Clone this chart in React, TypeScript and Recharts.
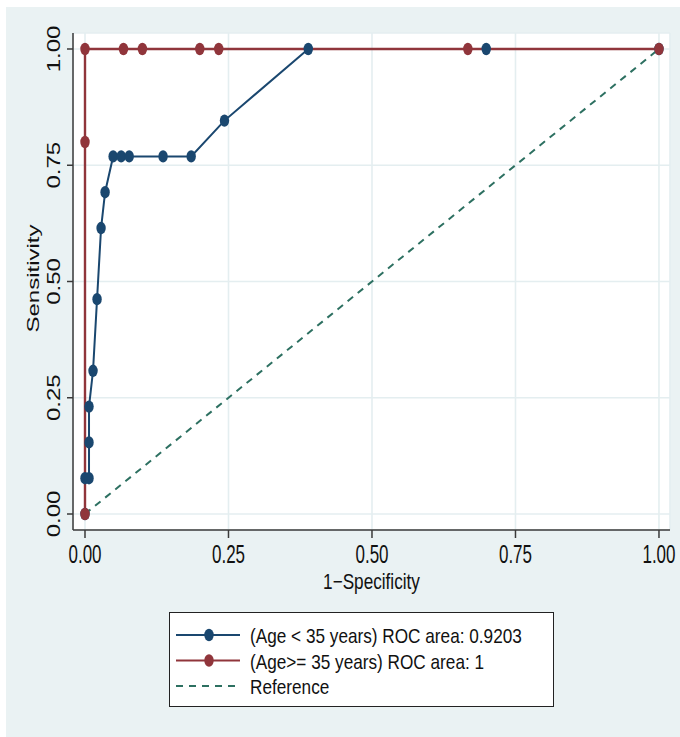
import React from "react";
import { LineChart, Line, XAxis, YAxis, CartesianGrid } from "recharts";

// ---- data ----
const blueX = [0, 0, 0.007, 0.007, 0.007, 0.014, 0.021, 0.028, 0.035, 0.049, 0.063, 0.077, 0.136, 0.185, 0.243, 0.389, 0.699, 1];
const blueY = [0, 0.077, 0.077, 0.154, 0.231, 0.308, 0.462, 0.615, 0.692, 0.769, 0.769, 0.769, 0.769, 0.769, 0.846, 1, 1, 1];
const redX = [0, 0, 0, 0.067, 0.1, 0.2, 0.233, 0.667, 1];
const redY = [0, 0.8, 1, 1, 1, 1, 1, 1, 1];
const refX = [0, 1];
const refY = [0, 1];
const xTicks = [0, 0.25, 0.5, 0.75, 1];
const yTicks = [0, 0.25, 0.5, 0.75, 1];
const seriesNames = [
  "(Age < 35 years) ROC area: 0.9203",
  "(Age>= 35 years) ROC area: 1",
  "Reference",
];
const xTitle = "1\u2212Specificity";
const yTitle = "Sensitivity";

const BLUE = "#1A476F";
const RED = "#90353B";
const GREEN = "#2D7061";
const BG = "#EAF2F3";
const GRID = "#E4EEF0";
const AXIS = "#3a3a3a";
const FONT = "'Liberation Sans', Arial, Helvetica, sans-serif";

const toRows = (xs: number[], ys: number[]) => xs.map((x, i) => ({ x, y: ys[i] }));
const blueData = toRows(blueX, blueY);
const redData = toRows(redX, redY);
const refData = toRows(refX, refY);

const fmt = (v: number) => v.toFixed(2);

const makeDot = (color: string) => (props: any) => {
  const { cx, cy, index } = props;
  if (cx == null || cy == null) return <g key={`d${index}`} />;
  return <ellipse key={`d${index}`} cx={cx} cy={cy} rx={4.7} ry={6.2} fill={color} />;
};

const XTick = (props: any) => {
  const { x, y, payload } = props;
  return (
    <g transform={`translate(${x},${y + 25}) scale(0.68,1)`}>
      <text textAnchor="middle" fontSize={25} fontFamily={FONT} fill="#111">
        {fmt(payload.value)}
      </text>
    </g>
  );
};

const YTick = (props: any) => {
  const { x, y, payload } = props;
  return (
    <g transform={`translate(${x - 7},${y}) scale(0.8,1) rotate(-90)`}>
      <text textAnchor="middle" fontSize={24} fontFamily={FONT} fill="#111">
        {fmt(payload.value)}
      </text>
    </g>
  );
};

const YTitle = (props: any) => {
  const vb = props.viewBox || {};
  const cy = vb.y + vb.height / 2 - 3;
  return (
    <g transform={`translate(39,${cy}) scale(0.72,1) rotate(-90)`}>
      <text textAnchor="middle" fontSize={24} fontFamily={FONT} fill="#111">
        {yTitle}
      </text>
    </g>
  );
};

const XTitle = (props: any) => {
  const vb = props.viewBox || {};
  const cx = vb.x + vb.width / 2;
  return (
    <g transform={`translate(${cx},589) scale(0.78,1)`}>
      <text textAnchor="middle" fontSize={22} fontFamily={FONT} fill="#111">
        {xTitle}
      </text>
    </g>
  );
};

const legendItems = [
  { name: seriesNames[0], color: BLUE, dashed: false },
  { name: seriesNames[1], color: RED, dashed: false },
  { name: seriesNames[2], color: GREEN, dashed: true },
];

const LegendBox = () => (
  <div
    style={{
      position: "absolute",
      left: 169,
      top: 612,
      width: 383,
      height: 93,
      background: "#fff",
      border: "1.5px solid #222",
    }}
  >
    <svg width={383} height={93} style={{ display: "block" }}>
      {legendItems.map((it, i) => {
        const ly = 22 + i * 25.5;
        return (
          <g key={i}>
            <line
              x1={6}
              x2={70}
              y1={ly}
              y2={ly}
              stroke={it.color}
              strokeWidth={2}
              strokeDasharray={it.dashed ? "7 6" : undefined}
            />
            {!it.dashed && <ellipse cx={39} cy={ly} rx={4.7} ry={6.2} fill={it.color} />}
            <g transform={`translate(80,${ly + 8}) scale(0.86,1)`}>
              <text fontSize={20} fontFamily={FONT} fill="#111">
                {it.name}
              </text>
            </g>
          </g>
        );
      })}
    </svg>
  </div>
);

export default function App() {
  return (
    <div style={{ position: "absolute", left: 0, top: 0, width: 680, height: 737, background: "#fff" }}>
      <div style={{ position: "absolute", left: 6, top: 7, width: 674, height: 730, background: BG }} />
      <div style={{ position: "absolute", left: 0, top: 0 }}>
        <LineChart width={680} height={737} margin={{ top: 33, right: 10, bottom: 147, left: 0 }}>
          <CartesianGrid fill="#fff" stroke={GRID} strokeWidth={1.6} />
          <XAxis
            type="number"
            dataKey="x"
            domain={[-0.0209, 1.0192]}
            allowDataOverflow
            ticks={xTicks}
            interval={0}
            height={60}
            tickSize={8}
            tickMargin={0}
            axisLine={{ stroke: AXIS, strokeWidth: 1.5 }}
            tickLine={{ stroke: AXIS, strokeWidth: 1.5 }}
            tick={<XTick />}
            label={<XTitle />}
          />
          <YAxis
            type="number"
            dataKey="y"
            domain={[-0.0344, 1.0344]}
            allowDataOverflow
            ticks={yTicks}
            interval={0}
            width={73}
            tickSize={6}
            tickMargin={0}
            axisLine={{ stroke: AXIS, strokeWidth: 1.5 }}
            tickLine={{ stroke: AXIS, strokeWidth: 1.5 }}
            tick={<YTick />}
            label={<YTitle />}
          />
          <Line
            data={refData}
            dataKey="y"
            type="linear"
            stroke={GREEN}
            strokeWidth={2}
            strokeDasharray="7 6"
            dot={false}
            activeDot={false}
            isAnimationActive={false}
          />
          <Line
            data={blueData}
            dataKey="y"
            type="linear"
            stroke={BLUE}
            strokeWidth={2}
            dot={makeDot(BLUE)}
            activeDot={false}
            isAnimationActive={false}
          />
          <Line
            data={redData}
            dataKey="y"
            type="linear"
            stroke={RED}
            strokeWidth={2.4}
            dot={makeDot(RED)}
            activeDot={false}
            isAnimationActive={false}
          />
        </LineChart>
      </div>
      <LegendBox />
    </div>
  );
}
